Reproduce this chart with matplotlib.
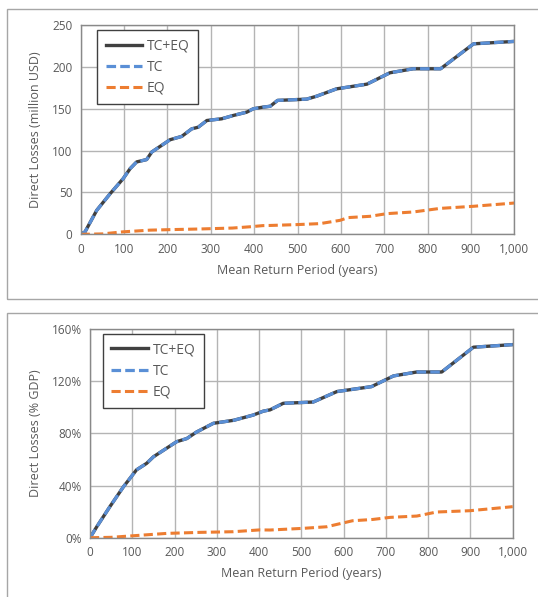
import matplotlib
matplotlib.use("Agg")
import matplotlib.pyplot as plt
from matplotlib.patches import Rectangle
from matplotlib.ticker import FuncFormatter

plt.rcParams['font.family'] = ['Open Sans', 'DejaVu Sans']

# return periods (years)
rp_total = [0, 10, 37, 68, 98, 114, 129, 152, 164, 206, 233, 256, 271, 291, 325, 352, 383,
            398, 421, 437, 454, 521, 544, 590, 660, 713, 767, 830, 906, 1000]
total_musd = [0, 3, 28.7, 48.6, 66.6, 78.5, 86.5, 89.3, 98.4, 113, 117, 126, 128, 136, 138, 142, 146,
              150, 152, 153, 160, 161.5, 165, 173.8, 179.4, 193, 197.8, 197.8, 227.6, 230.5]
tc_musd = [0, 3, 28.7, 48.6, 66.6, 78.5, 86.5, 89.3, 98.4, 113, 117, 126, 128, 136, 138, 142, 146,
           150, 152, 153, 160, 161.5, 165, 173.8, 179.4, 193, 197.8, 197.8, 227.6, 230.5]

rp_eq = [0, 50, 98, 160, 206, 276, 350, 390, 420, 437, 498, 552, 598, 617, 667, 706, 767, 829, 906, 1000]
eq_musd = [0, 0.5, 3, 5, 5.6, 6.4, 7.5, 9, 10.4, 10.6, 11.6, 12.8, 16.7, 20, 21.5, 24.7, 26.7, 31, 33.5, 37.4]

rp_total2 = [0, 16, 47, 79, 110, 134, 150, 205, 229, 252, 292, 340, 386, 410, 426, 457, 528, 584,
             666, 718, 773, 832, 907, 1000]
total_gdp = [0, 8.4, 23.8, 39, 52, 57, 62, 73.6, 76, 81, 87.7, 90, 94, 97, 98, 103, 104, 112,
             115.8, 124, 127, 127, 146, 148]
tc_gdp = [0, 8.4, 23.8, 39, 52, 57, 62, 73.6, 76, 81, 87.7, 90, 94, 97, 98, 103, 104, 112,
          115.8, 124, 127, 127, 146, 148]

rp_eq2 = [0, 50, 102, 181, 260, 339, 402, 426, 505, 560, 621, 669, 710, 773, 820, 899, 1000]
eq_gdp = [0, 0.3, 1.5, 3.3, 4.1, 4.6, 6, 5.9, 7.2, 8.4, 13, 14, 15.6, 16.6, 19.7, 20.7, 23.8]

text_c = "#595959"
grid_c = "#b4b4b4"

fig = plt.figure(figsize=(5.38, 5.97), dpi=100)

# panel frames
fig.patches.append(Rectangle((7 / 538, 1 - 299 / 597), 0.99, 290 / 597, transform=fig.transFigure,
                             fill=False, edgecolor="#a6a6a6", lw=1))
fig.patches.append(Rectangle((7 / 538, -0.01), 0.99, 1 - 313 / 597 + 0.01, transform=fig.transFigure,
                             fill=False, edgecolor="#a6a6a6", lw=1))

ax1 = fig.add_axes([0.150, 0.6075, 0.806, 0.3505])
ax2 = fig.add_axes([0.1673, 0.0993, 0.7857, 0.3497])


def style(ax, ylabel, leg_anchor):
    ax.set_xlim(0, 1000)
    ax.set_xticks(range(0, 1001, 100))
    ax.xaxis.set_major_formatter(FuncFormatter(lambda v, p: f"{int(v):,}"))
    ax.grid(True, color=grid_c, lw=1)
    ax.set_axisbelow(True)
    for s in ax.spines.values():
        s.set_color("#898989")
        s.set_linewidth(1)
    ax.tick_params(length=0, colors=text_c, labelsize=8.5, pad=6)
    ax.set_xlabel("Mean Return Period (years)", color=text_c, fontsize=9, labelpad=6)
    ax.set_ylabel(ylabel, color=text_c, fontsize=9, labelpad=7)
    leg = ax.legend(loc="upper left", bbox_to_anchor=leg_anchor, borderaxespad=0,
                    fancybox=False, framealpha=1, edgecolor="#404040", fontsize=10,
                    handlelength=2.65, labelspacing=0.45, borderpad=0.6, handletextpad=0.3)
    leg.get_frame().set_linewidth(1)
    for t in leg.get_texts():
        t.set_color(text_c)


ax1.plot(rp_total, total_musd, color="#404040", lw=2.4, label="TC+EQ")
ax1.plot(rp_total, tc_musd, color="#5a8fd6", lw=2.3, dashes=(3, 1.3), label="TC")
ax1.plot(rp_eq, eq_musd, color="#ed7d31", lw=2.2, dashes=(3, 1.4), label="EQ")
ax1.set_ylim(0, 250)
ax1.set_yticks(range(0, 251, 50))
style(ax1, "Direct Losses (million USD)", (0.038, 0.976))

ax2.plot(rp_total2, total_gdp, color="#404040", lw=2.4, label="TC+EQ")
ax2.plot(rp_total2, tc_gdp, color="#5a8fd6", lw=2.3, dashes=(3, 1.3), label="TC")
ax2.plot(rp_eq2, eq_gdp, color="#ed7d31", lw=2.2, dashes=(3, 1.4), label="EQ")
ax2.set_ylim(0, 160)
ax2.set_yticks(range(0, 161, 40))
ax2.yaxis.set_major_formatter(FuncFormatter(lambda v, p: f"{int(v)}%"))
style(ax2, "Direct Losses (% GDP)", (0.031, 0.976))

fig.savefig("out.png", dpi=100)
